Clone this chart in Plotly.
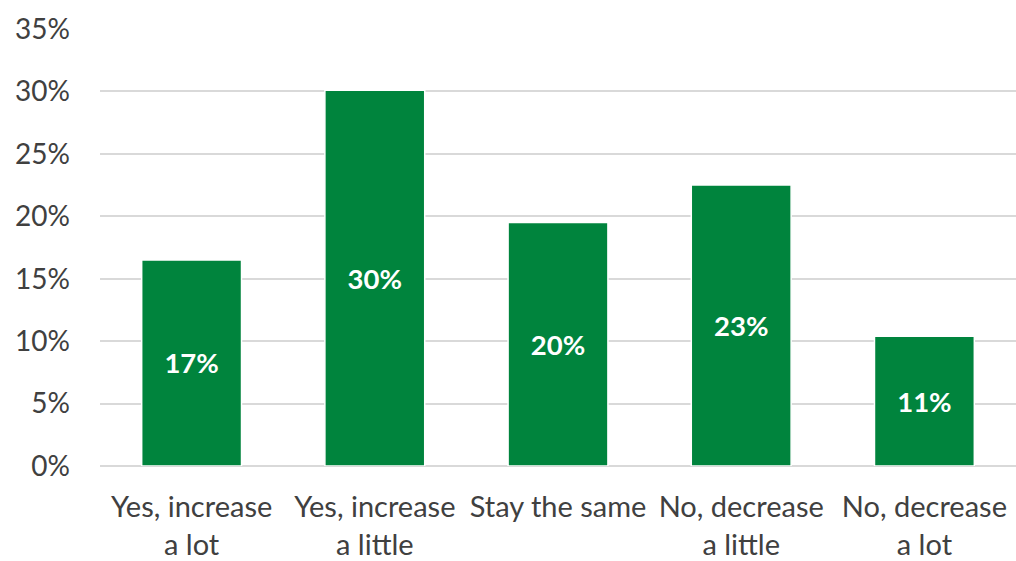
import plotly.graph_objects as go

categories = ["Yes, increase<br>a lot", "Yes, increase<br>a little", "Stay the same",
              "No, decrease<br>a little", "No, decrease<br>a lot"]
values = [0.165, 0.301, 0.195, 0.225, 0.104]
labels = ["17%", "30%", "20%", "23%", "11%"]
tick_vals = [0, 0.05, 0.10, 0.15, 0.20, 0.25, 0.30, 0.35]
tick_text = ["0%", "5%", "10%", "15%", "20%", "25%", "30%", "35%"]

FONT = "Lato"

fig = go.Figure(go.Bar(
    x=categories, y=values, text=labels,
    textposition="inside", insidetextanchor="middle",
    textfont=dict(family=FONT, size=27.5, color="white", weight="bold"),
    marker=dict(color="#00843D", line=dict(color="white", width=1.5)),
    cliponaxis=False,
))

fig.update_layout(
    width=1016, height=561,
    margin=dict(l=100, r=0, t=29, b=95),
    paper_bgcolor="white", plot_bgcolor="white",
    bargap=0.455,
    showlegend=False,
    font=dict(family=FONT, size=28, color="#404040"),
)
fig.update_yaxes(range=[0, 0.35], tickvals=tick_vals, ticktext=tick_text,
                 automargin=False,
                 showgrid=True, gridcolor="#D9D9D9", gridwidth=1.5,
                 zeroline=True, zerolinecolor="#D9D9D9", zerolinewidth=1.5,
                 ticks="", ticklabelstandoff=29,
                 tickfont=dict(family=FONT, size=28, color="#404040"))
fig.update_xaxes(showline=False, ticks="", tickangle=0, ticklabelstandoff=21,
                 automargin=False,
                 tickfont=dict(family=FONT, size=29, color="#404040"))

fig.write_html("out.html")
